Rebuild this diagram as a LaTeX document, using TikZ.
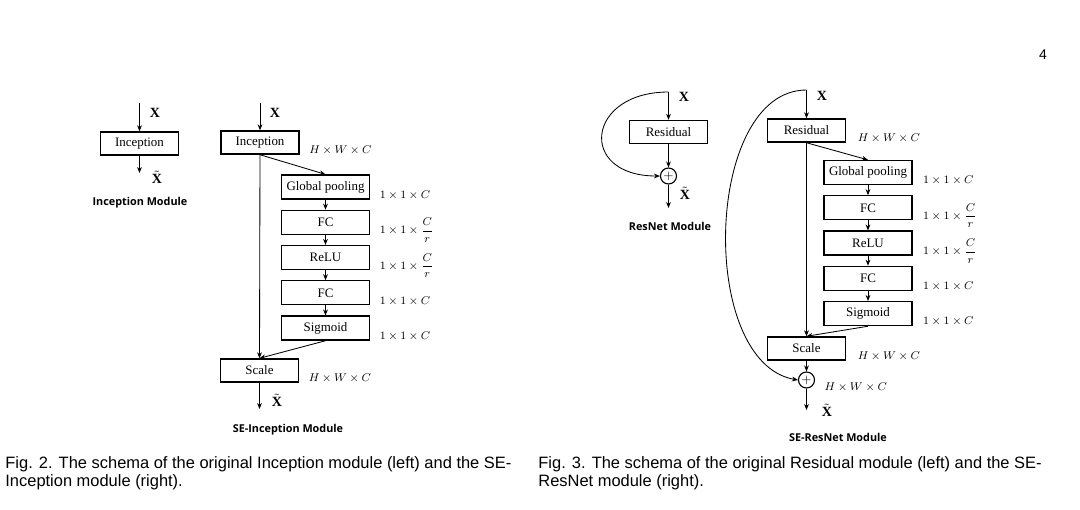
\documentclass[tikz,border=0pt]{standalone}
\usepackage{amsmath}
\usepackage{fontspec}
\setmainfont{Liberation Serif}
\setsansfont{Liberation Sans}
\newfontfamily\titlefont{Open Sans}
\usetikzlibrary{arrows.meta, positioning}

\begin{document}
\begin{tikzpicture}[
    x=0.025cm, y=-0.025cm,
    >={Stealth[length=1.5mm, width=1.2mm]},
    line width=0.6pt,
    mainbox/.style={
        rectangle,
        draw,
        line width=0.9pt,
        minimum width=1.95cm,
        minimum height=0.58cm,
        inner sep=1pt,
        font=\fontsize{9.2}{11}\selectfont
    },
    sebox/.style={
        mainbox,
        minimum width=2.2cm,
        minimum height=0.6cm
    },
    sumnode/.style={
        circle,
        draw,
        line width=0.8pt,
        minimum size=0.4cm,
        inner sep=0pt,
        font=\fontsize{9}{9}\selectfont
    },
    dim/.style={inner sep=0pt, font=\fontsize{8}{9}\selectfont},
    var/.style={inner sep=0pt, font=\fontsize{10}{12}\selectfont},
    modtitle/.style={font=\titlefont\bfseries\fontsize{7.7}{9}\selectfont},
    capt/.style={
        anchor=north west,
        align=left,
        inner sep=0pt,
        font=\sffamily\fontsize{11.7}{13.2}\selectfont
    }
]
\useasboundingbox (0,0) rectangle (1080,509);

\node[font=\sffamily\fontsize{10}{12}\selectfont] (pagenum) at (1043,55) {4};

% Inception module
\coordinate (in1) at (139.5,103);
\node[mainbox] (inc1) at (139.5,143.5) {Inception};
\coordinate (out1) at (139.5,173);
\node[var] (x1) at (155,113) {$\mathbf{X}$};
\node[var] (xt1) at (157,177) {$\tilde{\mathbf{X}}$};
\node[modtitle] (t1) at (140,203) {Inception Module};

\draw[->] (in1) -- (inc1);
\draw[->] (inc1) -- (out1);

% SE-Inception module
\coordinate (in2) at (260,103);
\node[mainbox] (inc2) at (260,142.5) {Inception};
\node[sebox] (gp2) at (325.5,187) {Global pooling};
\node[sebox, below=0.25cm of gp2] (fca2) {FC};
\node[sebox, below=0.25cm of fca2] (relu2) {ReLU};
\node[sebox, below=0.25cm of relu2] (fcb2) {FC};
\node[sebox, below=0.25cm of fcb2] (sig2) {Sigmoid};
\node[mainbox] (scale2) at (259.5,370.5) {Scale};
\coordinate (out2) at (259.5,409);
\node[var] (x2) at (275,113) {$\mathbf{X}$};
\node[var] (xt2) at (277,400) {$\tilde{\mathbf{X}}$};
\node[modtitle] (t2) at (288,430) {SE-Inception Module};

\node[dim, right=2.3mm of inc2.east, yshift=-2mm, anchor=west] (d2a) {$H\times W\times C$};
\node[dim, right=2.3mm of gp2.east, yshift=-2mm, anchor=west] (d2b) {$1\times1\times C$};
\node[dim, right=2.3mm of fca2.east, yshift=-2mm, anchor=west] (d2c) {$1\times1\times\dfrac{C}{r}$};
\node[dim, right=2.3mm of relu2.east, yshift=-2mm, anchor=west] (d2d) {$1\times1\times\dfrac{C}{r}$};
\node[dim, right=2.3mm of fcb2.east, yshift=-2mm, anchor=west] (d2e) {$1\times1\times C$};
\node[dim, right=2.3mm of sig2.east, yshift=-2mm, anchor=west] (d2f) {$1\times1\times C$};
\node[dim, right=2.3mm of scale2.east, yshift=-2mm, anchor=west] (d2g) {$H\times W\times C$};

\draw[->] (in2) -- (inc2);
\draw[->] (inc2.south) -- (gp2.north);
\draw[->] (gp2) -- (fca2);
\draw[->] (fca2) -- (relu2);
\draw[->] (relu2) -- (fcb2);
\draw[->] (fcb2) -- (sig2);
\draw[->] (inc2.south) -- (scale2.north);
\draw[->] (sig2.south) -- (scale2.north);
\draw[->] (scale2) -- (out2);

% ResNet module
\coordinate (in3) at (668.5,92);
\node[mainbox] (res3) at (668.5,132) {Residual};
\node[sumnode] (sum3) at (668.5,176) {$+$};
\coordinate (out3) at (668.5,208);
\node[var] (x3) at (684,97) {$\mathbf{X}$};
\node[var] (xt3) at (685,193) {$\tilde{\mathbf{X}}$};
\node[modtitle] (t3) at (670,226) {ResNet Module};

\draw[->] (in3) -- (res3);
\draw[->] (res3) -- (sum3);
\draw[->] (in3) to[out=180, in=180, looseness=2.5] (sum3.west);
\draw[->] (sum3) -- (out3);

% SE-ResNet module
\coordinate (in4) at (806.5,90);
\node[mainbox] (res4) at (806.5,130.5) {Residual};
\node[sebox] (gp4) at (868,172.5) {Global pooling};
\node[sebox, below=0.25cm of gp4] (fca4) {FC};
\node[sebox, below=0.25cm of fca4] (relu4) {ReLU};
\node[sebox, below=0.25cm of relu4] (fcb4) {FC};
\node[sebox, below=0.25cm of fcb4] (sig4) {Sigmoid};
\node[mainbox] (scale4) at (806.5,348.5) {Scale};
\node[sumnode] (sum4) at (806.5,380) {$+$};
\coordinate (out4) at (806.5,410);
\node[var] (x4) at (822,96) {$\mathbf{X}$};
\node[var] (xt4) at (827,410) {$\tilde{\mathbf{X}}$};
\node[modtitle] (t4) at (838,437) {SE-ResNet Module};

\node[dim, right=2.8mm of res4.east, yshift=-2mm, anchor=west] (d4a) {$H\times W\times C$};
\node[dim, right=2.5mm of gp4.east, yshift=-2mm, anchor=west] (d4b) {$1\times1\times C$};
\node[dim, right=2.5mm of fca4.east, yshift=-2mm, anchor=west] (d4c) {$1\times1\times\dfrac{C}{r}$};
\node[dim, right=2.5mm of relu4.east, yshift=-2mm, anchor=west] (d4d) {$1\times1\times\dfrac{C}{r}$};
\node[dim, right=2.5mm of fcb4.east, yshift=-2mm, anchor=west] (d4e) {$1\times1\times C$};
\node[dim, right=2.5mm of sig4.east, yshift=-2mm, anchor=west] (d4f) {$1\times1\times C$};
\node[dim, right=2.8mm of scale4.east, yshift=-2mm, anchor=west] (d4g) {$H\times W\times C$};
\node[dim, right=2.3mm of sum4.east, yshift=-1.8mm, anchor=west] (d4h) {$H\times W\times C$};

\draw[->] (in4) -- (res4);
\draw[->] (res4.south) -- (gp4.north);
\draw[->] (gp4) -- (fca4);
\draw[->] (fca4) -- (relu4);
\draw[->] (relu4) -- (fcb4);
\draw[->] (fcb4) -- (sig4);
\draw[->] (res4.south) -- (scale4.north);
\draw[->] (sig4.south) -- (scale4.north);
\draw[->] (scale4) -- (sum4);
\draw[->] (in4) to[out=180, in=170, looseness=0.9] (sum4.west);
\draw[->] (sum4) -- (out4);

% captions
\node[capt] (cap2) at (5,456) {Fig. 2. The schema of the original Inception module (left) and the SE-\\Inception module (right).};
\node[capt] (cap3) at (538,456) {Fig. 3. The schema of the original Residual module (left) and the SE-\\ResNet module (right).};

\end{tikzpicture}
\end{document}
